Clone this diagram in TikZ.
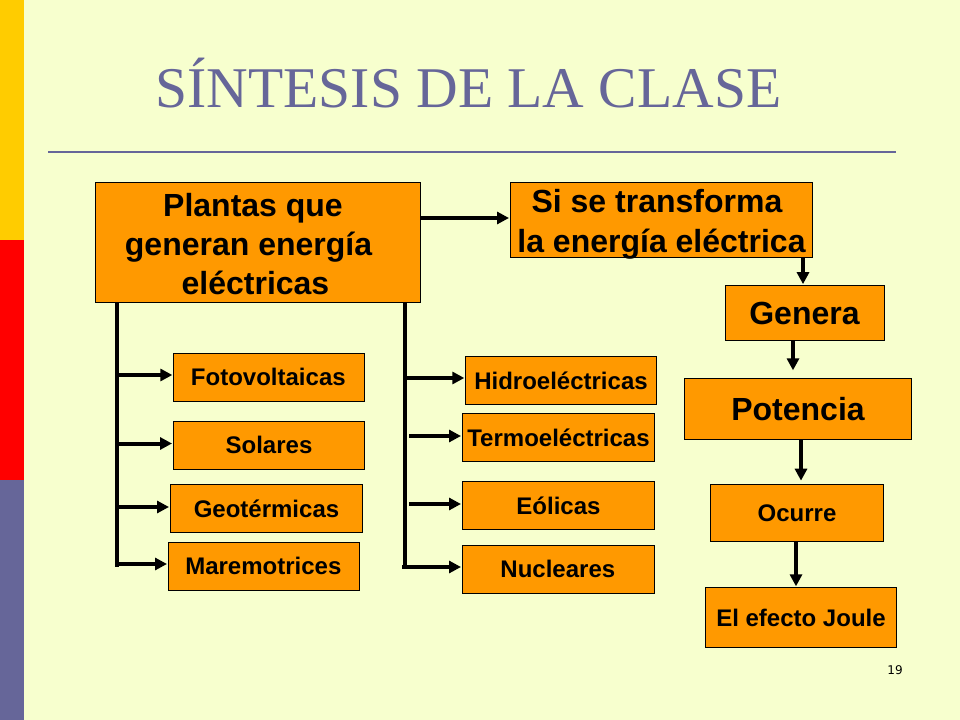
\documentclass[tikz,border=0pt]{standalone}
\usepackage{fontspec}
\usepackage{xcolor}
\setmainfont{Liberation Sans}
\newfontfamily\titlefont{Liberation Serif}
\newfontfamily\pagefont{DejaVu Sans}
\usetikzlibrary{positioning, calc, arrows.meta}
\definecolor{SlideBg}{RGB}{247,255,206}
\definecolor{SlideBlue}{RGB}{102,102,153}
\definecolor{SlideGold}{RGB}{255,204,0}
\definecolor{BoxOrange}{RGB}{255,153,0}
% linea centrada con desplazamiento horizontal (#1) y hacia abajo (#2)
\newcommand{\lineat}[3]{\hbox to 0pt{\hss\kern#1\kern#1 \raisebox{-#2}[0pt][0pt]{#3}\hss}\strut}
\tikzset{
    boxnode/.style={
        draw=black, fill=BoxOrange, line width=0.7pt, inner sep=0pt, outer sep=0pt,
        align=center, font=\bfseries
    },
    bignode/.style={
        boxnode, font=\fontsize{24}{29.3}\selectfont\bfseries
    },
    smallnode/.style={
        boxnode, font=\fontsize{18}{21}\selectfont\bfseries
    },
    ptr/.style={
        -{Triangle[length=9pt,width=9pt]}, line width=3pt, black, shorten >=1pt
    },
    busline/.style={
        line width=3.2pt, black
    }
}
\begin{document}
\begin{tikzpicture}[x=0.75pt, y=-0.75pt]
    \useasboundingbox (0,0) rectangle (960,720);

    % --- 1. FONDO ---
    \fill[SlideBg] (0,0) rectangle (960,720);
    \fill[SlideGold] (0,0) rectangle (24,240);
    \fill[red] (0,240) rectangle (24,480);
    \fill[SlideBlue] (0,480) rectangle (24,720);

    % --- 2. TITULO ---
    \node[anchor=center, text=SlideBlue, font=\fontsize{43.2}{50}\selectfont\titlefont] (title) at (468.5,83) {SÍNTESIS DE LA CLASE};
    \coordinate (ruleL) at (48,152);
    \coordinate (ruleR) at (896,152);
    \draw[SlideBlue, line width=1.5pt] (ruleL) -- (ruleR);
    \node[font=\fontsize{9}{11}\selectfont\pagefont] (pagenum) at (895,670) {19};

    % --- 3. CAJAS ---
    \node[bignode, minimum width=244pt, minimum height=90.5pt] (plantas) at (258,242.5) {\lineat{-3.75pt}{3.8pt}{Plantas que}\\\lineat{-7.1pt}{3.8pt}{generan energía}\\\lineat{-1.9pt}{3.8pt}{eléctricas}};
    \node[bignode, inner ysep=-3pt, minimum width=226.75pt, minimum height=56pt] (transforma) at (661.5,220) {\lineat{-3.4pt}{3.6pt}{Si se transforma}\\[0.7pt]\lineat{0pt}{3.6pt}{la energía eléctrica}};
    \node[bignode, minimum width=119.5pt, minimum height=41.25pt] (genera) at (805,313) {\lineat{-0.4pt}{3.1pt}{Genera}};
    \node[bignode, minimum width=170.5pt, minimum height=46pt] (potencia) at (798,409) {Potencia};
    \node[smallnode, minimum width=130pt, minimum height=42.5pt] (ocurre) at (797,513) {Ocurre};
    \node[smallnode, minimum width=143pt, minimum height=44.75pt] (joule) at (801,617.5) {El efecto Joule};

    % columna izquierda
    \node[smallnode, minimum width=143pt, minimum height=35.75pt] (fotovoltaicas) at (269,377.5) {\lineat{-0.5pt}{2.1pt}{Fotovoltaicas}};
    \node[smallnode, minimum width=143.5pt, minimum height=36.25pt] (solares) at (269,445.5) {\lineat{0pt}{2pt}{Solares}};
    \node[smallnode, minimum width=144.25pt, minimum height=36.25pt] (geotermicas) at (266.5,508.5) {Geotérmicas};
    \node[smallnode, minimum width=143.5pt, minimum height=36.25pt] (maremotrices) at (264,566.5) {\lineat{-0.5pt}{1.8pt}{Maremotrices}};

    % columna derecha
    \node[smallnode, minimum width=143pt, minimum height=35.75pt] (hidro) at (561,380.5) {Hidroeléctricas};
    \node[smallnode, minimum width=144.25pt, minimum height=36.25pt] (termo) at (558.5,437.5) {Termoeléctricas};
    \node[smallnode, minimum width=144.25pt, minimum height=36.25pt] (eolicas) at (558.5,505.5) {Eólicas};
    \node[smallnode, minimum width=144.25pt, minimum height=36.25pt] (nucleares) at (558.5,569.5) {\lineat{-0.5pt}{2pt}{Nucleares}};

    % --- 4. CONECTORES ---
    \coordinate (busLend) at (117,567);
    \coordinate (busRend) at (405,568);
    \draw[busline] (plantas.south -| busLend) -- (busLend);
    \draw[busline] (plantas.south -| busRend) -- (busRend);

    \coordinate (foto0) at (117,375);
    \coordinate (sola0) at (117,443.5);
    \coordinate (geot0) at (117,507);
    \coordinate (mare0) at (117,564);
    \coordinate (hidr0) at (405,378);
    \coordinate (term0) at (409,436);
    \coordinate (eoli0) at (409,504);
    \coordinate (nucl0) at (402,567);

    \draw[ptr] (foto0) -- (fotovoltaicas.west |- foto0);
    \draw[ptr] (sola0) -- (solares.west |- sola0);
    \draw[ptr] (geot0) -- (geotermicas.west |- geot0);
    \draw[ptr] (mare0) -- (maremotrices.west |- mare0);
    \draw[ptr] (hidr0) -- (hidro.west |- hidr0);
    \draw[ptr] (term0) -- (termo.west |- term0);
    \draw[ptr] (eoli0) -- (eolicas.west |- eoli0);
    \draw[ptr] (nucl0) -- (nucleares.west |- nucl0);

    \draw[ptr] (plantas.east |- 0,218) -- (transforma.west |- 0,218);
    \draw[ptr] (transforma.south -| 803,0) -- (genera.north -| 803,0);
    \draw[ptr, shorten >=6pt] (genera.south -| 793,0) -- (potencia.north -| 793,0);
    \draw[ptr, shorten >=3pt] (potencia.south -| 801,0) -- (ocurre.north -| 801,0);
    \draw[ptr] (ocurre.south -| 796,0) -- (joule.north -| 796,0);
\end{tikzpicture}
\end{document}
